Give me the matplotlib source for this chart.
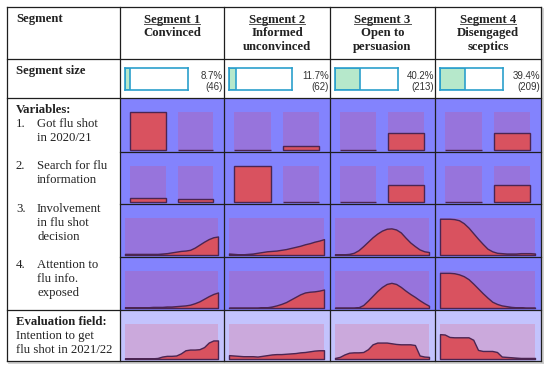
import matplotlib.pyplot as plt
from matplotlib.patches import Rectangle

W, H = 550, 370

# ---- data ----
segments = ['Segment 1', 'Segment 2', 'Segment 3', 'Segment 4']
segment_names = [['Convinced'], ['Informed', 'unconvinced'],
                 ['Open to', 'persuasion'], ['Disengaged', 'sceptics']]
size_pct = [8.7, 11.7, 40.2, 39.4]
size_n = [46, 62, 213, 209]

# two-bar rows (left bar, right bar), share of panel height
flu_shot_left = [1.0, 0.0, 0.0, 0.0]
flu_shot_right = [0.0, 0.10, 0.44, 0.44]
search_left = [0.11, 1.0, 0.0, 0.0]
search_right = [0.08, 0.0, 0.46, 0.46]

# profile rows, values along the answer scale
scale_pos = [0.00, 0.05, 0.10, 0.15, 0.20, 0.25, 0.30, 0.35, 0.40, 0.45, 0.50,
             0.55, 0.60, 0.65, 0.70, 0.75, 0.80, 0.85, 0.90, 0.95, 1.00]
involvement = [
    [0.03, 0.03, 0.03, 0.03, 0.03, 0.03, 0.03, 0.03, 0.04, 0.05, 0.07,
     0.09, 0.11, 0.12, 0.14, 0.20, 0.28, 0.36, 0.43, 0.48, 0.50],
    [0.04, 0.03, 0.02, 0.02, 0.03, 0.04, 0.06, 0.08, 0.10, 0.11, 0.12,
     0.14, 0.16, 0.19, 0.22, 0.25, 0.29, 0.32, 0.36, 0.39, 0.43],
    [0.02, 0.02, 0.02, 0.03, 0.06, 0.13, 0.24, 0.36, 0.48, 0.58, 0.66,
     0.71, 0.72, 0.69, 0.61, 0.47, 0.34, 0.24, 0.15, 0.10, 0.08],
    [0.98, 0.98, 0.98, 0.97, 0.94, 0.86, 0.74, 0.59, 0.44, 0.30, 0.17,
     0.10, 0.06, 0.05, 0.04, 0.04, 0.04, 0.05, 0.05, 0.05, 0.04],
]
attention = [
    [0.02, 0.02, 0.02, 0.02, 0.02, 0.02, 0.03, 0.03, 0.03, 0.04, 0.04,
     0.05, 0.06, 0.07, 0.09, 0.13, 0.18, 0.25, 0.32, 0.38, 0.42],
    [0.01, 0.01, 0.01, 0.01, 0.01, 0.01, 0.01, 0.02, 0.02, 0.04, 0.07,
     0.11, 0.16, 0.23, 0.30, 0.37, 0.42, 0.44, 0.45, 0.47, 0.50],
    [0.01, 0.01, 0.01, 0.01, 0.01, 0.02, 0.08, 0.20, 0.33, 0.46, 0.57,
     0.65, 0.68, 0.65, 0.57, 0.47, 0.38, 0.30, 0.21, 0.13, 0.06],
    [0.95, 0.95, 0.95, 0.94, 0.91, 0.86, 0.78, 0.66, 0.53, 0.40, 0.28,
     0.17, 0.11, 0.07, 0.05, 0.03, 0.02, 0.02, 0.01, 0.01, 0.01],
]
intention = [
    [0.02, 0.02, 0.02, 0.02, 0.02, 0.02, 0.02, 0.03, 0.07, 0.09, 0.09,
     0.10, 0.16, 0.25, 0.27, 0.27, 0.28, 0.34, 0.47, 0.53, 0.53],
    [0.11, 0.10, 0.09, 0.08, 0.08, 0.08, 0.07, 0.09, 0.11, 0.13, 0.14,
     0.14, 0.15, 0.16, 0.17, 0.19, 0.20, 0.22, 0.24, 0.25, 0.25],
    [0.03, 0.06, 0.13, 0.18, 0.19, 0.19, 0.20, 0.28, 0.42, 0.47, 0.47,
     0.47, 0.45, 0.43, 0.42, 0.42, 0.42, 0.40, 0.10, 0.07, 0.06],
    [0.71, 0.70, 0.63, 0.62, 0.62, 0.62, 0.62, 0.55, 0.26, 0.23, 0.23,
     0.23, 0.20, 0.07, 0.06, 0.05, 0.04, 0.03, 0.03, 0.03, 0.03],
]

# ---- colours / layout ----
blue = '#8383fd'
purple = '#9774dc'
light_blue = '#c3c3fd'
pink = '#cba9dc'
red = '#d9525f'
edge = '#4b2552'
line_c = '#1e1e1e'
serif = 'Liberation Serif'
sans = 'Liberation Sans'
fs = 9.2

col_edges = [7, 120, 224, 330, 435, 541]
row_edges = [7, 59, 98, 152, 204, 257, 310, 361]

fig = plt.figure(figsize=(5.5, 3.7), dpi=100)
ax = fig.add_axes([0, 0, 1, 1])
ax.set_xlim(0, W)
ax.set_ylim(H, 0)
ax.axis('off')


def px_axes(x0, y0, x1, y1):
    a = fig.add_axes([x0 / W, 1 - y1 / H, (x1 - x0) / W, (y1 - y0) / H])
    for s in a.spines.values():
        s.set_visible(False)
    a.set_xticks([])
    a.set_yticks([])
    return a


# faint shadow right / bottom
ax.plot([col_edges[-1] + 1.5] * 2, [row_edges[0] + 2, row_edges[-1] + 1.5],
        color='#c8c8c8', lw=1.2)
ax.plot([col_edges[0] + 2, col_edges[-1] + 1.5], [row_edges[-1] + 1.5] * 2,
        color='#c8c8c8', lw=1.2)

# cell backgrounds
for r in range(2, 7):
    for c in range(4):
        x0, x1 = col_edges[c + 1], col_edges[c + 2]
        y0, y1 = row_edges[r], row_edges[r + 1]
        ax.add_patch(Rectangle((x0, y0), x1 - x0, y1 - y0,
                               color=light_blue if r == 6 else blue, lw=0))

# grid lines
for x in col_edges:
    ax.plot([x, x], [row_edges[0], row_edges[-1]], color=line_c, lw=0.9)
for y in [row_edges[0], row_edges[1], row_edges[2], row_edges[6], row_edges[7]]:
    ax.plot([col_edges[0], col_edges[-1]], [y, y], color=line_c, lw=0.9)
for y in row_edges[3:6]:
    ax.plot([col_edges[1], col_edges[-1]], [y, y], color=line_c, lw=0.9)

# header
for c in range(4):
    cx = (col_edges[c + 1] + col_edges[c + 2]) / 2
    t = ax.text(cx, 22.5, segments[c], ha='center', va='baseline',
                fontfamily=serif, fontweight='bold', fontsize=fs,
                color='#222222')
    for i, name in enumerate(segment_names[c]):
        ax.text(cx, 33 + 14 * i, name, ha='center', va='center',
                fontfamily=serif, fontweight='bold', fontsize=fs,
                color='#222222')
    # underline under the segment title
    fig.canvas.draw()
    bb = t.get_window_extent()
    xa = ax.transData.inverted().transform([bb.x0, bb.y0])[0]
    xb = ax.transData.inverted().transform([bb.x1, bb.y0])[0]
    ax.plot([xa, xb], [24, 24], color='#555555', lw=0.7)

# first column labels
lab = dict(fontfamily=serif, fontsize=fs, va='center', color='#222222')
ax.text(16, 19, 'Segment', fontweight='bold', **lab)
ax.text(16, 71, 'Segment size', fontweight='bold', **lab)
ax.text(16, 110, 'Variables:', fontweight='bold', **lab)
items = [
    ('1.', ['Got flu shot', 'in 2020/21'], 124),
    ('2.', ['Search for flu', 'information'], 166),
    ('3.', ['Involvement', 'in flu shot', 'decision'], 209),
    ('4.', ['Attention to', 'flu info.', 'exposed'], 265),
]
for num, lines, y in items:
    ax.text(16, y, num, **lab)
    for i, s in enumerate(lines):
        ax.text(37, y + 14 * i, s, **lab)
ax.text(16, 322, 'Evaluation field:', fontweight='bold', **lab)
ax.text(16, 336, 'Intention to get', **lab)
ax.text(16, 350, 'flu shot in 2021/22', **lab)

# segment size boxes
for c in range(4):
    x0 = col_edges[c + 1] + 5
    a = px_axes(x0, 68, x0 + 63, 90)
    for s in a.spines.values():
        s.set_visible(True)
        s.set_color('#2b9fcc')
        s.set_linewidth(1.2)
    a.set_xlim(0, 100)
    a.set_ylim(-0.5, 0.5)
    a.barh([0], [size_pct[c]], height=1, color='#b6e8cb',
           edgecolor='#2b9fcc', lw=1.2)
    xr = col_edges[c + 2] - 1
    ax.text(xr, 76, f'{size_pct[c]}%', ha='right', va='center',
            fontfamily=sans, fontsize=7, color='#333333')
    ax.text(xr, 87, f'({size_n[c]})', ha='right', va='center',
            fontfamily=sans, fontsize=7, color='#333333')

# bar rows
bar_rows = [(flu_shot_left, flu_shot_right), (search_left, search_right)]
for r, (left, right) in enumerate(bar_rows):
    for c in range(4):
        a = px_axes(col_edges[c + 1] + 5, row_edges[r + 2] + 14,
                    col_edges[c + 2] - 6, row_edges[r + 3] - 2)
        a.patch.set_alpha(0)
        a.set_xlim(-0.48, 1.47)
        a.set_ylim(0, 1)
        a.bar([0, 1], [1, 1], width=0.75, color=purple, lw=0)
        a.bar([0, 1], [left[c], right[c]], width=0.75, color=red,
              edgecolor=edge, lw=1.0, clip_on=False)

# profile rows
profile_rows = [involvement, attention, intention]
for k, prof in enumerate(profile_rows):
    r = k + 4
    for c in range(4):
        a = px_axes(col_edges[c + 1] + 5, row_edges[r] + 14,
                    col_edges[c + 2] - 6, row_edges[r + 1] - 2)
        a.set_facecolor(pink if r == 6 else purple)
        a.set_xlim(0, 1)
        a.set_ylim(0, 1)
        a.fill_between(scale_pos, prof[c], 0, facecolor=red, edgecolor=edge,
                       lw=1.0, clip_on=False)

fig.savefig('out.png', dpi=100)
